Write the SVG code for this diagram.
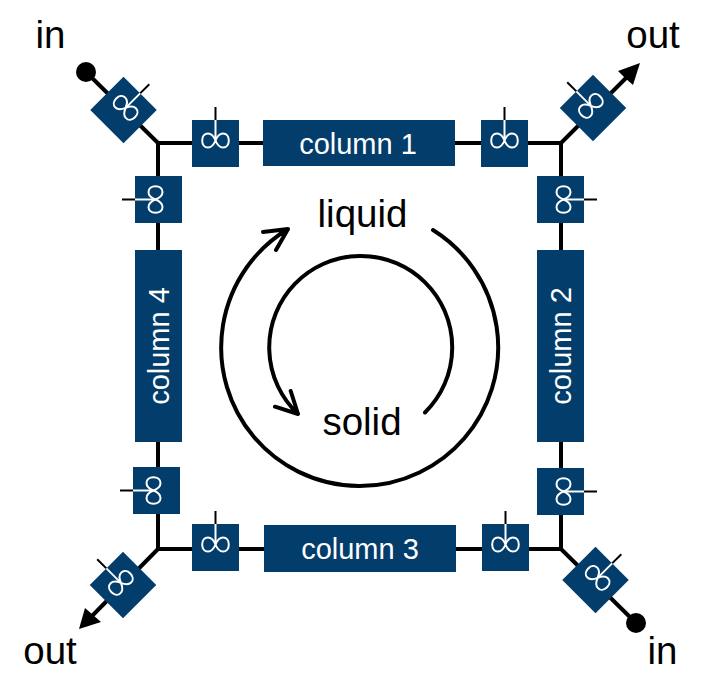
<svg xmlns="http://www.w3.org/2000/svg" width="703" height="697" viewBox="0 0 703 697">
<style>
.pipe{fill:none;stroke:#000;stroke-width:4}
.ring{fill:none;stroke:#000;stroke-width:4;stroke-linecap:round;stroke-linejoin:round}
.box{fill:#033d6b}
.tick{stroke:#000;stroke-width:2;fill:none}
.tw{stroke:#fff;stroke-width:2;fill:none}
.lbl{font-family:"Liberation Sans",Arial,sans-serif;font-size:38.5px;fill:#000;text-anchor:middle}
.col{font-family:"Liberation Sans",Arial,sans-serif;font-size:29px;fill:#fff;text-anchor:middle}
</style>
<defs>
<g id="valve">
<rect class="box" x="-23.500" y="-23.500" width="47" height="47"/>
<line class="tick" x1="0" y1="-36.500" x2="0" y2="-23.500"/>
<line class="tw" x1="0" y1="-23.500" x2="0" y2="-3"/>
<path class="tw" d="M0 -3C-2 -8 -5 -10 -7.500 -10C-11 -10 -13.300 -7 -13.300 -3C-13.300 1 -11 4 -7.500 4C-5 4 -2 2 0 -3C2 -8 5 -10 7.500 -10C11 -10 13.300 -7 13.300 -3C13.300 1 11 4 7.500 4C5 4 2 2 0 -3Z"/>
</g>
</defs>
<g id="connectors">
<path class="pipe" d="M86 72L158 143M158 143H561M561 143L628 76M158 143V549M561 143V549M158 549H561M158 549L92 616M561 549L636 623"/>
<circle cx="86" cy="72" r="10"/>
<circle cx="636" cy="623" r="10"/>
<path d="M640 63L618 71L625 78L633 85Z"/>
<path d="M79 629L85 608L93 615L101 622Z"/>
<path class="ring" d="M433 230A138.500 138.500 0 1 1 288 229M263 232L288 229L276 250"/>
<path class="ring" d="M425 412.500A91.500 91.500 0 1 0 298 414M275 406.700L298 414L290.700 391"/>
</g>
<g id="valve-1"><use href="#valve" transform="translate(215.500 143.500)"/></g>
<g id="valve-2"><use href="#valve" transform="translate(504.500 143.500)"/></g>
<g id="valve-3"><use href="#valve" transform="translate(158.500 199.500) rotate(-90)"/></g>
<g id="valve-4"><use href="#valve" transform="translate(560.500 199.500) rotate(90)"/></g>
<g id="valve-5"><use href="#valve" transform="translate(156.500 490.500) rotate(-90)"/></g>
<g id="valve-6"><use href="#valve" transform="translate(560.500 491.500) rotate(90)"/></g>
<g id="valve-7"><use href="#valve" transform="translate(215.500 547.500)"/></g>
<g id="valve-8"><use href="#valve" transform="translate(505.500 547.500)"/></g>
<g id="valve-in-tl"><use href="#valve" transform="translate(123.500 110) rotate(45)"/></g>
<g id="valve-out-tr"><use href="#valve" transform="translate(593 108) rotate(-45)"/></g>
<g id="valve-out-bl"><use href="#valve" transform="translate(123 585) rotate(-45)"/></g>
<g id="valve-in-br"><use href="#valve" transform="translate(595.500 580) rotate(45)"/></g>
<g id="column-1"><rect class="box" x="263" y="120" width="192" height="46"/><text class="col" x="358" y="154">column 1</text></g>
<g id="column-2"><rect class="box" x="537" y="250" width="47" height="192"/><text class="col" transform="translate(560.500 346) rotate(-90)" y="10">column 2</text></g>
<g id="column-3"><rect class="box" x="264" y="525" width="192" height="47"/><text class="col" x="360" y="559">column 3</text></g>
<g id="column-4"><rect class="box" x="135" y="250" width="47" height="192"/><text class="col" transform="translate(158.500 346) rotate(-90)" y="10">column 4</text></g>
<g id="labels">
<text class="lbl" x="50.500" y="48">in</text>
<text class="lbl" x="653" y="48">out</text>
<text class="lbl" x="50" y="664">out</text>
<text class="lbl" x="662.500" y="664">in</text>
<text class="lbl" x="362.500" y="227">liquid</text>
<text class="lbl" x="362" y="435">solid</text>
</g>
</svg>
